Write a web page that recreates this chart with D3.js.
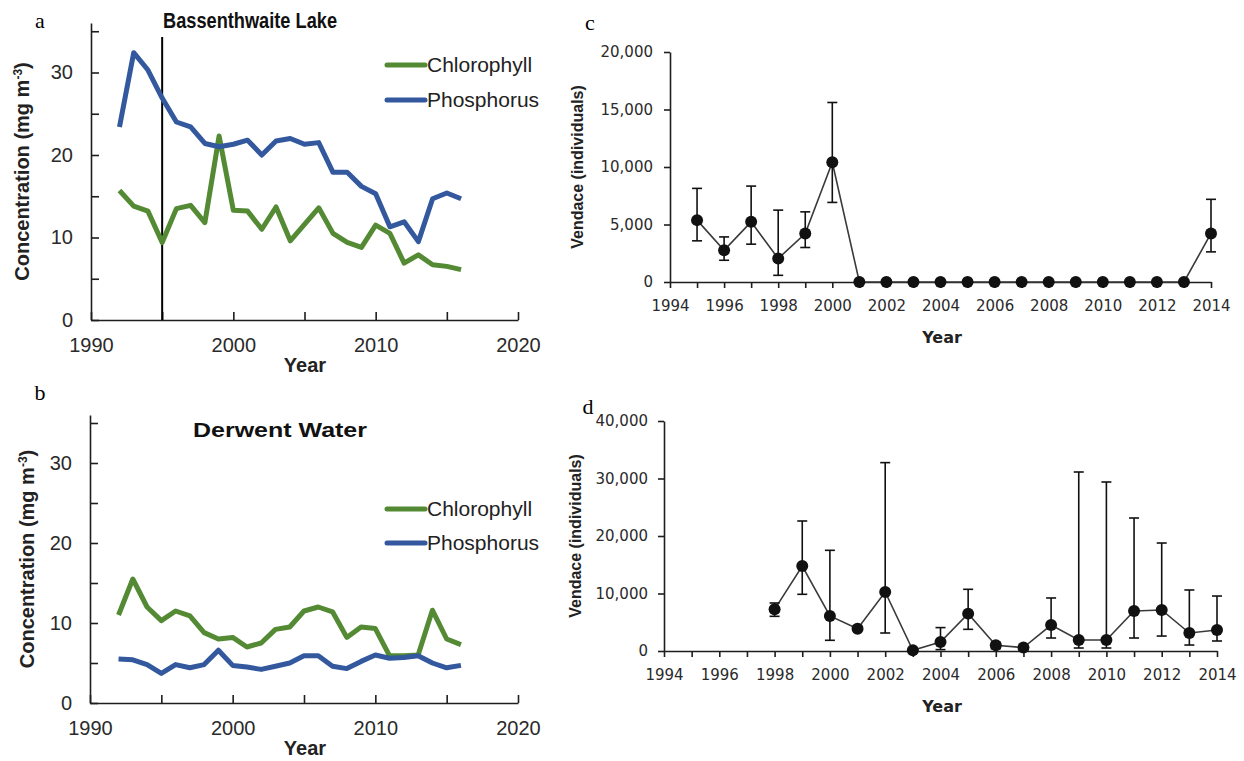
<!DOCTYPE html>
<html><head><meta charset="utf-8">
<script src="https://cdn.jsdelivr.net/npm/d3@7"></script>
<style>
body{margin:0;background:#fff;}
svg{display:block;}
</style></head><body>
<svg id="fig" width="1244" height="761"></svg>
<script>
// ---- Lake water quality (mg m-3), 1992-2016 ----
const lakeYears = [1992,1993,1994,1995,1996,1997,1998,1999,2000,2001,2002,2003,2004,2005,2006,2007,2008,2009,2010,2011,2012,2013,2014,2015,2016];
const bassChl = [15.7,13.8,13.2,9.4,13.5,13.9,11.8,22.3,13.3,13.2,11.0,13.7,9.6,11.6,13.6,10.5,9.4,8.8,11.5,10.5,6.9,7.9,6.7,6.5,6.1];
const bassP   = [23.4,32.4,30.3,26.9,24.0,23.4,21.4,21.0,21.3,21.8,20.0,21.7,22.0,21.3,21.5,17.9,17.9,16.2,15.3,11.3,11.9,9.5,14.7,15.4,14.7];
const derChl  = [11.0,15.5,12.0,10.3,11.5,10.9,8.8,8.0,8.2,7.0,7.5,9.2,9.5,11.5,12.0,11.4,8.2,9.5,9.3,5.9,5.9,6.0,11.6,8.0,7.3];
const derP    = [5.5,5.4,4.8,3.7,4.8,4.4,4.8,6.6,4.7,4.5,4.2,4.6,5.0,5.9,5.9,4.6,4.3,5.2,6.0,5.6,5.7,5.9,5.0,4.4,4.7];
const concTicks = [0,5,10,15,20,25,30,35];
const concLabels = [0,10,20,30];
const lakeYearTicks = [1990,1995,2000,2005,2010,2015,2020];
const lakeYearLabels = [1990,2000,2010,2020];
const markerYear = 1995;

// ---- Vendace survey estimates (individuals) with error limits ----
const bassVYears = [1995,1996,1997,1998,1999,2000,2001,2002,2003,2004,2005,2006,2007,2008,2009,2010,2011,2012,2013,2014];
const bassV   = [5380,2760,5230,2040,4220,10410,0,0,0,0,0,0,0,0,0,0,0,0,0,4220];
const bassVLo = [3580,1890,3290,580,3000,6920,null,null,null,null,null,null,null,null,null,null,null,null,null,2620];
const bassVHi = [8140,3920,8340,6250,6100,15610,null,null,null,null,null,null,null,null,null,null,null,null,null,7190];
const derVYears = [1998,1999,2000,2001,2002,2003,2004,2005,2006,2007,2008,2009,2010,2011,2012,2013,2014];
const derV   = [7250,14780,6090,3890,10260,120,1570,6500,1000,600,4520,1910,1910,6960,7130,3130,3650];
const derVLo = [6030,9860,1860,3600,3130,0,240,3770,400,200,2260,520,520,2260,2600,1040,1740];
const derVHi = [8350,22610,17510,4300,32760,300,4070,10730,1500,900,9220,31130,29390,23130,18780,10610,9560];
const vYearTicks = [1994,1995,1996,1997,1998,1999,2000,2001,2002,2003,2004,2005,2006,2007,2008,2009,2010,2011,2012,2013,2014];
const vYearLabels = [1994,1996,1998,2000,2002,2004,2006,2008,2010,2012,2014];
const bassVTicks = [0,5000,10000,15000,20000];
const derVTicks = [0,10000,20000,30000,40000];

const GREEN = "#538a33", BLUE = "#33589d", INK = "#1e1e1e";
const SANS = "'Liberation Sans', Arial, sans-serif";
const svg = d3.select("#fig");

function styleAxis(g, fontSize, family) {
  g.selectAll(".domain").attr("stroke", INK).attr("stroke-width", 1.6);
  g.selectAll(".tick line").attr("stroke", INK).attr("stroke-width", 1.6);
  g.selectAll(".tick text").attr("fill", "#2a2a2a").style("font-size", fontSize + "px").style("font-family", family);
}

function lakePanel(o) {
  const x = d3.scaleLinear().domain([1990, 2020]).range([o.x0, o.x1]);
  const y = d3.scaleLinear().domain([0, 36]).range([o.yb, o.yt]);
  const g = svg.append("g");

  const ya = g.append("g").attr("transform", `translate(${o.x0},0)`)
    .call(d3.axisLeft(y).tickValues(concTicks).tickSize(-8).tickSizeOuter(0).tickPadding(18)
      .tickFormat(d => concLabels.includes(d) ? d : ""));
  styleAxis(ya, 20, SANS);
  const xa = g.append("g").attr("transform", `translate(0,${o.yb})`)
    .call(d3.axisBottom(x).tickValues(lakeYearTicks).tickSize(-8).tickSizeOuter(0).tickPadding(18)
      .tickFormat(d => lakeYearLabels.includes(d) ? d : ""));
  styleAxis(xa, 20, SANS);

  if (o.marker) {
    g.append("line").attr("x1", x(markerYear)).attr("x2", x(markerYear))
      .attr("y1", o.yb).attr("y2", o.markerTop).attr("stroke", "#000").attr("stroke-width", 2);
  }

  const line = d3.line().x((d, i) => x(lakeYears[i])).y(d => y(d));
  [[o.chl, GREEN], [o.p, BLUE]].forEach(([vals, col]) => {
    g.append("path").datum(vals).attr("d", line).attr("fill", "none")
      .attr("stroke", col).attr("stroke-width", 5).attr("stroke-linejoin", "round");
  });

  // legend
  [["Chlorophyll", GREEN, o.legY[0]], ["Phosphorus", BLUE, o.legY[1]]].forEach(([t, col, ly]) => {
    g.append("line").attr("x1", 387).attr("x2", 425).attr("y1", ly).attr("y2", ly)
      .attr("stroke", col).attr("stroke-width", 5).attr("stroke-linecap", "round");
    g.append("text").attr("x", 427).attr("y", ly).attr("dy", "0.35em").text(t)
      .style("font-family", SANS).style("font-size", "21px").attr("fill", "#222");
  });

  g.append("text").attr("x", o.titleX).attr("y", o.titleY).attr("text-anchor", "middle")
    .text(o.title).style("font-family", SANS).style("font-weight", "bold").style("font-size", o.titleSize + "px")
    .attr("fill", "#111").attr("textLength", o.titleLen).attr("lengthAdjust", "spacingAndGlyphs");

  const yl = g.append("text").attr("transform", `translate(${o.ylabX},${(o.yb + o.yt) / 2}) rotate(-90)`)
    .attr("text-anchor", "middle").attr("dy", "0.35em")
    .style("font-family", SANS).style("font-weight", "bold").style("font-size", "20px").attr("fill", "#222");
  yl.append("tspan").text("Concentration (mg m");
  yl.append("tspan").text("-3").attr("baseline-shift", "super").style("font-size", "12px");
  yl.append("tspan").text(")");

  g.append("text").attr("x", 305).attr("y", o.yb + 45).attr("dy", "0.35em").attr("text-anchor", "middle")
    .text("Year").style("font-family", SANS).style("font-weight", "bold").style("font-size", "20px").attr("fill", "#222");
}

function vendacePanel(o) {
  const x = d3.scaleLinear().domain([1994, 2014]).range([o.x0, o.x1]);
  const y = d3.scaleLinear().domain([0, o.ymax]).range([o.yb, o.yt]);
  const g = svg.append("g");
  const FAM = "'DejaVu Sans', sans-serif";

  const ya = g.append("g").attr("transform", `translate(${o.x0},0)`)
    .call(d3.axisLeft(y).tickValues(o.yticks).tickSize(6).tickSizeOuter(0).tickPadding(o.ypad).tickFormat(d3.format(",")));
  styleAxis(ya, 15, FAM);
  const xa = g.append("g").attr("transform", `translate(0,${o.yb})`)
    .call(d3.axisBottom(x).tickValues(vYearTicks).tickSize(6).tickSizeOuter(0).tickPadding(12)
      .tickFormat(d => vYearLabels.includes(d) ? d : ""));
  styleAxis(xa, 15, FAM);

  const line = d3.line().x((d, i) => x(o.years[i])).y(d => y(d));
  g.append("path").datum(o.v).attr("d", line).attr("fill", "none").attr("stroke", "#3a3a3a").attr("stroke-width", 1.6);

  o.years.forEach((yr, i) => {
    if (o.lo[i] == null) return;
    const cx = x(yr), cap = 5;
    g.append("line").attr("x1", cx).attr("x2", cx).attr("y1", y(o.lo[i])).attr("y2", y(o.hi[i]))
      .attr("stroke", "#111").attr("stroke-width", 1.6);
    [o.lo[i], o.hi[i]].forEach(val => {
      g.append("line").attr("x1", cx - cap).attr("x2", cx + cap).attr("y1", y(val)).attr("y2", y(val))
        .attr("stroke", "#111").attr("stroke-width", 1.6);
    });
  });
  g.selectAll("circle.pt").data(o.v).join("circle").attr("class", "pt")
    .attr("cx", (d, i) => x(o.years[i])).attr("cy", d => y(d)).attr("r", 6).attr("fill", "#111");

  g.append("text").attr("transform", `translate(${o.ylabX},${(o.yb + o.yt) / 2}) rotate(-90)`)
    .attr("text-anchor", "middle").attr("dy", "0.35em").text("Vendace (individuals)")
    .style("font-family", SANS).style("font-weight", "bold").style("font-size", "16px").attr("fill", "#222");
  g.append("text").attr("x", 942).attr("y", o.yb + 55).attr("dy", "0.35em").attr("text-anchor", "middle")
    .text("Year").style("font-family", FAM).style("font-weight", "bold").style("font-size", "16px").attr("fill", "#222");
}

lakePanel({x0: 91, x1: 518, yb: 320, yt: 23, chl: bassChl, p: bassP, marker: true, markerTop: 37,
  legY: [65, 100], title: "Bassenthwaite Lake", titleX: 250, titleY: 28, titleLen: 174, titleSize: 22, ylabX: 22});
lakePanel({x0: 90, x1: 518, yb: 703, yt: 415, chl: derChl, p: derP, marker: false,
  legY: [509, 543], title: "Derwent Water", titleX: 280, titleY: 437, titleLen: 174, titleSize: 20, ylabX: 27});

vendacePanel({x0: 670, x1: 1211, yb: 282, yt: 52, ymax: 20000, yticks: bassVTicks, ypad: 11,
  years: bassVYears, v: bassV, lo: bassVLo, hi: bassVHi, ylabX: 577});
vendacePanel({x0: 664, x1: 1217, yb: 651, yt: 421, ymax: 40000, yticks: derVTicks, ypad: 10,
  years: derVYears, v: derV, lo: derVLo, hi: derVHi, ylabX: 575});

// panel letters
[["a", 40, 20], ["b", 40, 392], ["c", 590, 22], ["d", 588, 406]].forEach(([t, px, py]) => {
  svg.append("text").attr("x", px).attr("y", py).attr("dy", "0.35em").attr("text-anchor", "middle").text(t)
    .style("font-family", "'Liberation Serif', 'Times New Roman', serif").style("font-size", "22px").attr("fill", "#000");
});
</script>
</body></html>
